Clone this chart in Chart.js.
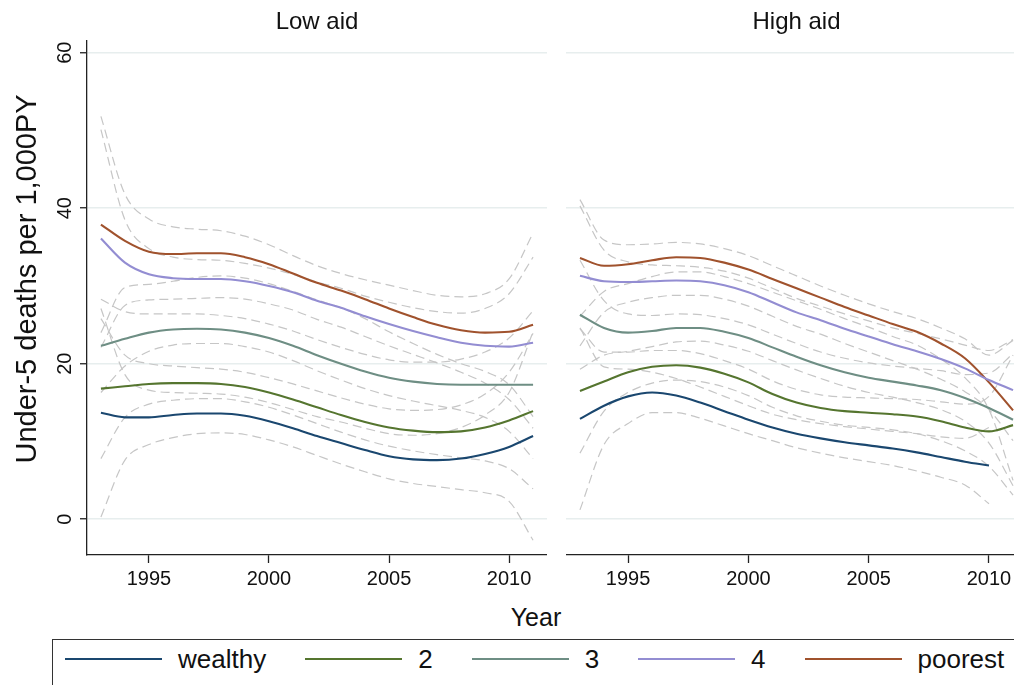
<!DOCTYPE html>
<html>
<head>
<meta charset="utf-8">
<script src="https://cdn.jsdelivr.net/npm/chart.js@4.4.0/dist/chart.umd.min.js"></script>
<style>
  html, body { margin: 0; padding: 0; background: #fff; overflow: hidden; width: 1014px; height: 685px; }
  #wrap { position: relative; width: 1014px; height: 685px; font-family: "Liberation Sans", Arial, sans-serif; color: #111; }
  #boxL { position: absolute; left: 0; top: 0; width: 547px; height: 600px; }
  #boxR { position: absolute; left: 566px; top: 0; width: 461px; height: 600px; }
  #xtitle { position: absolute; left: 436px; top: 602px; width: 200px; line-height: 30px; text-align: center; font-size: 25px; }
  #legend { position: absolute; left: 52px; top: 639px; width: 1000px; height: 80px; border: 1.6px solid #333;
            box-sizing: border-box; display: flex; align-items: center; gap: 39px; padding: 0 0 40px 12px; }
  .item { display: flex; align-items: center; font-size: 26px; line-height: 30px; }
  .swatch { width: 97px; height: 2px; margin-right: 16px; }
</style>
</head>
<body>
<div id="wrap">
  <div id="boxL"><canvas id="lowAid"></canvas></div>
  <div id="boxR"><canvas id="highAid"></canvas></div>
  <div id="xtitle">Year</div>
  <div id="legend"></div>
</div>
<script>
/* Years on the x axis */
const years = [1993, 1994, 1995, 1996, 1997, 1998, 1999, 2000, 2001, 2002,
               2003, 2004, 2005, 2006, 2007, 2008, 2009, 2010, 2011];
const xTicks = [1995, 2000, 2005, 2010];
const yTicks = [0, 20, 40, 60];
const yTitle = 'Under-5 deaths per 1,000PY';
const groups = ['wealthy', '2', '3', '4', 'poorest'];
const groupColors = ['#1a476f', '#55752f', '#6e8e84', '#938dd2', '#a0522d'];

/* Low aid: fitted line, upper and lower band */
const lowWealthy   = [13.7, 13.1, 13.1, 13.4, 13.6, 13.6, 13.3, 12.6, 11.7, 10.7, 9.8, 8.9, 8.1, 7.7, 7.6, 7.8, 8.4, 9.3, 10.7];
const lowWealthyUp = [27.1, 18.6, 16.6, 16.3, 16.2, 16.1, 15.7, 15.0, 14.1, 13.2, 12.5, 11.7, 11.0, 10.8, 11.0, 11.8, 13.4, 16.3, 24.1];
const lowWealthyLo = [0.3, 7.6, 9.6, 10.5, 11.0, 11.1, 10.9, 10.2, 9.3, 8.2, 7.1, 6.1, 5.2, 4.6, 4.2, 3.8, 3.4, 2.3, -2.7];
const lowQ2   = [16.8, 17.1, 17.4, 17.5, 17.5, 17.4, 17.0, 16.3, 15.4, 14.4, 13.4, 12.5, 11.8, 11.4, 11.2, 11.3, 11.8, 12.7, 13.9];
const lowQ2Up = [25.8, 21.1, 20.0, 19.7, 19.5, 19.3, 18.9, 18.2, 17.4, 16.5, 15.6, 14.8, 14.2, 14.0, 14.1, 14.7, 16.1, 18.9, 23.9];
const lowQ2Lo = [7.8, 13.1, 14.8, 15.3, 15.5, 15.5, 15.1, 14.4, 13.4, 12.3, 11.2, 10.2, 9.4, 8.8, 8.3, 7.9, 7.5, 6.5, 3.9];
const lowQ3   = [22.3, 23.2, 24.0, 24.4, 24.5, 24.4, 24.0, 23.3, 22.3, 21.1, 20.0, 19.0, 18.2, 17.7, 17.4, 17.3, 17.3, 17.3, 17.3];
const lowQ3Up = [28.3, 26.7, 26.4, 26.4, 26.4, 26.2, 25.8, 25.1, 24.2, 23.1, 22.1, 21.2, 20.5, 20.2, 20.2, 20.6, 21.5, 23.3, 26.8];
const lowQ3Lo = [16.3, 19.7, 21.6, 22.4, 22.6, 22.6, 22.2, 21.5, 20.4, 19.1, 17.9, 16.8, 15.9, 15.2, 14.6, 14.0, 13.1, 11.3, 7.8];
const lowQ4   = [36.1, 33.0, 31.5, 31.0, 30.9, 30.9, 30.6, 30.0, 29.2, 28.1, 27.2, 26.1, 25.1, 24.2, 23.4, 22.7, 22.3, 22.2, 22.7];
const lowQ4Up = [50.1, 38.5, 34.8, 33.7, 33.4, 33.3, 32.9, 32.3, 31.5, 30.5, 29.7, 28.7, 27.9, 27.2, 26.7, 26.5, 27.1, 29.0, 33.7];
const lowQ4Lo = [22.1, 27.5, 28.2, 28.3, 28.4, 28.5, 28.3, 27.7, 26.9, 25.7, 24.7, 23.5, 22.3, 21.2, 20.1, 18.9, 17.5, 15.4, 11.7];
const lowPoorest   = [37.9, 35.8, 34.4, 34.1, 34.2, 34.2, 33.7, 32.8, 31.6, 30.4, 29.4, 28.3, 27.1, 26.0, 25.0, 24.3, 24.0, 24.1, 25.0];
const lowPoorestUp = [51.8, 41.8, 38.6, 37.6, 37.3, 37.1, 36.4, 35.3, 33.9, 32.6, 31.6, 30.8, 30.1, 29.4, 28.8, 28.6, 29.0, 30.9, 36.8];
const lowPoorestLo = [24.0, 29.8, 30.2, 30.6, 31.1, 31.3, 31.0, 30.3, 29.3, 28.2, 27.2, 25.8, 24.1, 22.6, 21.2, 20.0, 19.0, 17.3, 13.2];

/* High aid */
const highWealthy   = [12.9, 14.6, 15.8, 16.3, 15.9, 15.0, 13.9, 12.8, 11.8, 11.0, 10.4, 9.9, 9.5, 9.1, 8.6, 8.0, 7.4, 6.9, null];
const highWealthyUp = [24.6, 19.6, 19.3, 18.9, 18.1, 17.0, 15.8, 14.6, 13.5, 12.8, 12.3, 11.9, 11.6, 11.3, 11.0, 10.6, 10.4, 11.8, null];
const highWealthyLo = [1.2, 9.6, 12.3, 13.7, 13.7, 13.0, 12.0, 11.0, 10.1, 9.2, 8.5, 7.9, 7.4, 6.9, 6.2, 5.4, 4.4, 2.0, null];
const highQ2   = [16.5, 17.7, 18.9, 19.6, 19.8, 19.5, 18.7, 17.6, 16.1, 15.0, 14.3, 13.9, 13.7, 13.5, 13.2, 12.6, 11.8, 11.3, 12.1];
const highQ2Up = [24.5, 21.5, 21.5, 21.7, 21.7, 21.3, 20.4, 19.3, 17.8, 16.7, 16.0, 15.7, 15.6, 15.5, 15.4, 15.1, 14.8, 15.8, 21.1];
const highQ2Lo = [8.5, 13.9, 16.3, 17.5, 17.9, 17.7, 17.0, 15.9, 14.4, 13.3, 12.6, 12.1, 11.8, 11.5, 11.0, 10.1, 8.8, 6.8, 3.1];
const highQ3   = [26.3, 24.6, 24.0, 24.2, 24.6, 24.6, 24.1, 23.3, 22.1, 20.9, 19.8, 18.9, 18.2, 17.7, 17.2, 16.6, 15.6, 14.3, 12.8];
const highQ3Up = [33.3, 28.1, 26.4, 26.2, 26.4, 26.3, 25.8, 25.0, 23.8, 22.6, 21.5, 20.7, 20.1, 19.7, 19.4, 19.1, 18.6, 18.8, 21.3];
const highQ3Lo = [19.3, 21.1, 21.6, 22.2, 22.8, 22.9, 22.4, 21.6, 20.4, 19.2, 18.1, 17.1, 16.3, 15.7, 15.0, 14.1, 12.6, 9.8, 4.3];
const highQ4   = [31.3, 30.6, 30.5, 30.6, 30.7, 30.6, 30.1, 29.2, 27.9, 26.6, 25.6, 24.5, 23.5, 22.5, 21.6, 20.6, 19.4, 17.9, 16.6];
const highQ4Up = [40.3, 34.6, 33.1, 32.7, 32.6, 32.4, 31.9, 31.0, 29.7, 28.4, 27.4, 26.4, 25.5, 24.6, 23.9, 23.2, 22.4, 21.7, 23.1];
const highQ4Lo = [22.3, 26.6, 27.9, 28.5, 28.8, 28.8, 28.3, 27.4, 26.1, 24.8, 23.8, 22.6, 21.5, 20.4, 19.3, 18.0, 16.4, 14.1, 10.1];
const highPoorest   = [33.6, 32.6, 32.8, 33.3, 33.7, 33.6, 33.0, 32.1, 30.9, 29.7, 28.5, 27.3, 26.2, 25.1, 24.1, 22.6, 20.7, 17.6, 14.0];
const highPoorestUp = [41.1, 35.9, 35.3, 35.4, 35.6, 35.4, 34.8, 33.9, 32.6, 31.3, 30.0, 28.8, 27.7, 26.7, 25.8, 24.6, 23.2, 21.1, 23.0];
const highPoorestLo = [26.1, 29.3, 30.3, 31.2, 31.8, 31.8, 31.2, 30.3, 29.2, 28.1, 27.0, 25.8, 24.7, 23.5, 22.4, 20.6, 18.2, 14.1, 5.0];

const X_MIN = 1992.42, X_MAX = 2011.58;
const Y_MIN = -4.6, Y_MAX = 61.5;

Chart.defaults.font.family = '"Liberation Sans", Arial, Helvetica, sans-serif';
Chart.defaults.color = '#111';

function pts(arr) {
    return years.map((yr, i) => ({x: yr, y: arr[i]}));
}

/* Fitted lines on top, dashed bands underneath */
function buildDatasets(main, bands) {
    const ds = [];
    main.forEach((arr, g) => {
        ds.push({label: groups[g], data: pts(arr), borderColor: groupColors[g], borderWidth: 2.1, order: 0});
    });
    bands.forEach((arr) => {
        ds.push({label: 'band', data: pts(arr), borderColor: '#c6c6c6', borderWidth: 1.2, borderDash: [9, 5], order: 1});
    });
    return ds;
}

/* Stata style y labels and title: turned 90 degrees */
const rotatedYLabels = {
    id: 'rotatedYLabels',
    afterDraw(chart) {
        const y = chart.scales.y;
        const ctx = chart.ctx;
        ctx.save();
        ctx.fillStyle = '#111';
        ctx.textAlign = 'center';
        ctx.textBaseline = 'middle';
        ctx.font = '20px "Liberation Sans", Arial, sans-serif';
        y.ticks.forEach((t) => {
            ctx.save();
            ctx.translate(y.right - 22, y.getPixelForValue(t.value));
            ctx.rotate(-Math.PI / 2);
            ctx.fillText(String(t.value), 0, 0);
            ctx.restore();
        });
        ctx.font = '29px "Liberation Sans", Arial, sans-serif';
        ctx.translate(28, y.getPixelForValue(30.9));
        ctx.rotate(-Math.PI / 2);
        ctx.fillText(yTitle, 0, 0);
        ctx.restore();
    }
};

function panelOptions(title, showY) {
    return {
        responsive: true,
        maintainAspectRatio: false,
        animation: false,
        layout: {padding: 0},
        plugins: {legend: {display: false}, tooltip: {enabled: false}},
        elements: {
            point: {radius: 0},
            line: {cubicInterpolationMode: 'monotone', fill: false}
        },
        scales: {
            x: {
                type: 'linear', position: 'bottom', min: X_MIN, max: X_MAX,
                afterBuildTicks: (s) => { s.ticks = xTicks.map((v) => ({value: v})); },
                afterFit: (s) => { s.height = 45; },
                grid: {display: true, drawOnChartArea: false, drawTicks: true, tickLength: 8, tickColor: '#222', tickWidth: 1.3},
                border: {display: true, color: '#222', width: 1.3},
                ticks: {font: {size: 20}, padding: 4, maxRotation: 0, autoSkip: false, callback: (v) => String(v)}
            },
            top: {
                type: 'linear', position: 'top', min: X_MIN, max: X_MAX,
                afterFit: (s) => { s.height = 41; },
                grid: {display: false}, border: {display: false}, ticks: {display: false},
                title: {display: true, text: title, font: {size: 24}, padding: {top: 8, bottom: 4}}
            },
            y: {
                type: 'linear', min: Y_MIN, max: Y_MAX,
                afterBuildTicks: (s) => { s.ticks = yTicks.map((v) => ({value: v})); },
                afterFit: (s) => { s.width = showY ? 87 : 0; },
                grid: {color: '#e7eeee', lineWidth: 1.5, drawTicks: showY, tickLength: 7, tickColor: '#222', tickWidth: 1.3},
                border: {display: showY, color: '#222', width: 1.3},
                ticks: {display: false}
            }
        }
    };
}

const lowChart = new Chart(document.getElementById('lowAid'), {
    type: 'line',
    data: {datasets: buildDatasets(
        [lowWealthy, lowQ2, lowQ3, lowQ4, lowPoorest],
        [lowWealthyUp, lowWealthyLo, lowQ2Up, lowQ2Lo, lowQ3Up, lowQ3Lo, lowQ4Up, lowQ4Lo, lowPoorestUp, lowPoorestLo])},
    options: panelOptions('Low aid', true),
    plugins: [rotatedYLabels]
});

const highChart = new Chart(document.getElementById('highAid'), {
    type: 'line',
    data: {datasets: buildDatasets(
        [highWealthy, highQ2, highQ3, highQ4, highPoorest],
        [highWealthyUp, highWealthyLo, highQ2Up, highQ2Lo, highQ3Up, highQ3Lo, highQ4Up, highQ4Lo, highPoorestUp, highPoorestLo])},
    options: panelOptions('High aid', false)
});

/* Legend box under both panels */
const legend = document.getElementById('legend');
groups.forEach((name, g) => {
    const item = document.createElement('div');
    item.className = 'item';
    const sw = document.createElement('span');
    sw.className = 'swatch';
    sw.style.background = groupColors[g];
    item.appendChild(sw);
    item.appendChild(document.createTextNode(name));
    legend.appendChild(item);
});
</script>
</body>
</html>
